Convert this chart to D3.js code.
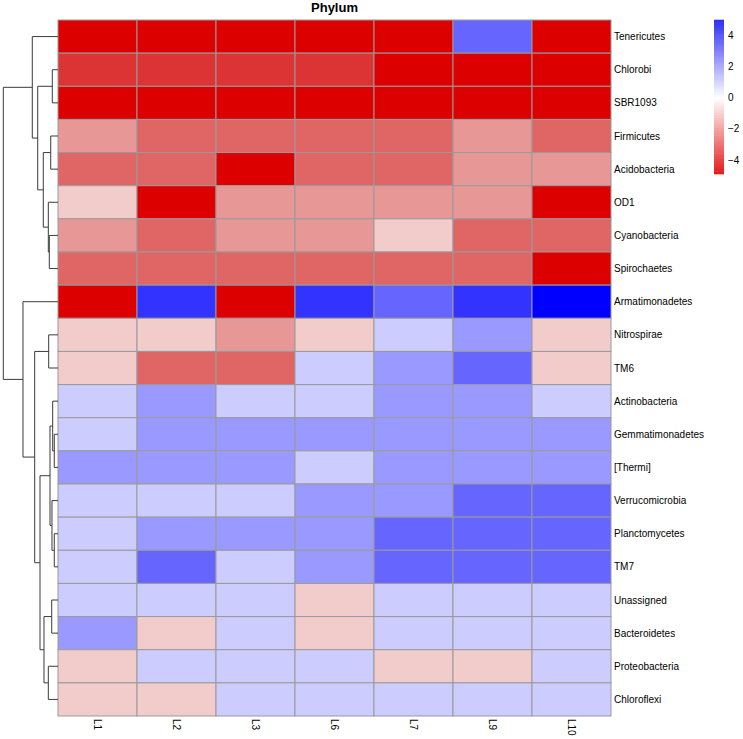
<!DOCTYPE html>
<html>
<head>
<meta charset="utf-8">
<script src="https://cdn.jsdelivr.net/npm/d3@7"></script>
<style>
  body { margin: 0; background: #fff; }
  text { font-family: "Liberation Sans", Arial, Helvetica, sans-serif; }
</style>
</head>
<body>
<script>

// samples (columns) and phyla (rows, in the order of the dendrogram)
var samples = ["L1", "L2", "L3", "L6", "L7", "L9", "L10"];

var phyla = ["Tenericutes", "Chlorobi", "SBR1093", "Firmicutes", "Acidobacteria",
  "OD1", "Cyanobacteria", "Spirochaetes", "Armatimonadetes", "Nitrospirae", "TM6",
  "Actinobacteria", "Gemmatimonadetes", "[Thermi]", "Verrucomicrobia",
  "Planctomycetes", "TM7", "Unassigned", "Bacteroidetes", "Proteobacteria", "Chloroflexi"];

// scaled values, one row per phylum, columns follow samples
var values = [
  [-4.5, -4.5, -4.5, -4.5, -4.5,  2.5, -4.5],
  [-3.5, -3.5, -3.5, -3.5, -4.5, -4.5, -4.5],
  [-4.5, -4.5, -4.5, -4.5, -4.5, -4.5, -4.5],
  [-1.5, -2.5, -2.5, -2.5, -2.5, -1.5, -2.5],
  [-2.5, -2.5, -4.5, -2.5, -2.5, -1.5, -1.5],
  [-0.5, -4.5, -1.5, -1.5, -1.5, -1.5, -4.5],
  [-1.5, -2.5, -1.5, -1.5, -0.5, -2.5, -2.5],
  [-2.5, -2.5, -2.5, -2.5, -2.5, -2.5, -4.5],
  [-4.5,  3.5, -4.5,  3.5,  2.5,  3.5,  4.5],
  [-0.5, -0.5, -1.5, -0.5,  0.5,  1.5, -0.5],
  [-0.5, -2.5, -2.5,  0.5,  1.5,  2.5, -0.5],
  [ 0.5,  1.5,  0.5,  0.5,  1.5,  1.5,  0.5],
  [ 0.5,  1.5,  1.5,  1.5,  1.5,  1.5,  1.5],
  [ 1.5,  1.5,  1.5,  0.5,  1.5,  1.5,  1.5],
  [ 0.5,  0.5,  0.5,  1.5,  1.5,  2.5,  2.5],
  [ 0.5,  1.5,  1.5,  1.5,  2.5,  2.5,  2.5],
  [ 0.5,  2.5,  0.5,  1.5,  2.5,  2.5,  2.5],
  [ 0.5,  0.5,  0.5, -0.5,  0.5,  0.5,  0.5],
  [ 1.5, -0.5,  0.5, -0.5,  0.5,  0.5,  0.5],
  [-0.5,  0.5,  0.5,  0.5, -0.5, -0.5,  0.5],
  [-0.5, -0.5,  0.5,  0.5,  0.5,  0.5,  0.5]
];

// row clustering, hclust style: [left, right, height], "mN" = earlier merge N
var merges = [
  ["Gemmatimonadetes", "[Thermi]", 0.68],   // m0
  ["Planctomycetes", "TM7", 0.68],          // m1
  ["Actinobacteria", "m0", 0.97],           // m2
  ["Chlorobi", "SBR1093", 1.04],            // m3
  ["Verrucomicrobia", "m1", 1.10],          // m4
  ["Unassigned", "Bacteroidetes", 1.15],    // m5
  ["Firmicutes", "Acidobacteria", 1.33],    // m6
  ["m2", "m4", 1.46],                       // m7
  ["Cyanobacteria", "Spirochaetes", 1.59],  // m8
  ["Nitrospirae", "TM6", 1.70],             // m9
  ["OD1", "m8", 1.77],                      // m10
  ["Proteobacteria", "Chloroflexi", 1.77],  // m11
  ["m5", "m11", 2.56],                      // m12
  ["m6", "m10", 2.69],                      // m13
  ["m7", "m12", 3.29],                      // m14
  ["m3", "m13", 3.71],                      // m15
  ["m9", "m14", 4.26],                      // m16
  ["Tenericutes", "m15", 4.70],             // m17
  ["Armatimonadetes", "m16", 6.40],         // m18
  ["m17", "m18", 10.0]                      // m19
];

var legendTicks = [-4, -2, 0, 2, 4];
var legendDomain = [-4.9, 5];

var colorBreaks = [-4, -3, -2, -1, 0, 1, 2, 3, 4];
var colorSteps = ["#dc0000", "#dc3434", "#e06565", "#e89797", "#f2cbcb",
                  "#ccccff", "#9999ff", "#6666ff", "#3333ff", "#0000ff"];


var W = 743, H = 739;
var grid = {left: 58, right: 611, top: 20, bottom: 716};

var svg = d3.select("body").append("svg")
    .attr("width", W)
    .attr("height", H);

var x = d3.scaleBand()
    .domain(samples)
    .range([grid.left, grid.right]);

var y = d3.scaleBand()
    .domain(phyla)
    .range([grid.top, grid.bottom]);

var color = d3.scaleThreshold()
    .domain(colorBreaks)
    .range(colorSteps);

// title
svg.append("text")
    .attr("x", (grid.left + grid.right) / 2)
    .attr("y", 12)
    .attr("text-anchor", "middle")
    .attr("font-size", 13)
    .attr("font-weight", "bold")
    .text("Phylum");

// cells
var cells = [];
phyla.forEach((p, i) => samples.forEach((s, j) => cells.push({row: p, col: s, v: values[i][j]})));

svg.append("g").selectAll("rect")
    .data(cells)
    .enter().append("rect")
    .attr("x", d => x(d.col))
    .attr("y", d => y(d.row))
    .attr("width", x.bandwidth())
    .attr("height", y.bandwidth())
    .attr("fill", d => color(d.v))
    .attr("stroke", "#9a9a9a")
    .attr("stroke-width", 1);

// row labels
svg.append("g").selectAll("text")
    .data(phyla)
    .enter().append("text")
    .attr("x", grid.right + 3)
    .attr("y", d => y(d) + y.bandwidth() / 2)
    .attr("dy", "0.35em")
    .attr("font-size", 10)
    .text(d => d);

// column labels, rotated
svg.append("g").selectAll("text")
    .data(samples)
    .enter().append("text")
    .attr("transform", d => `translate(${x(d) + x.bandwidth() / 2},${grid.bottom + 3}) rotate(90)`)
    .attr("dy", "0.35em")
    .attr("font-size", 10)
    .text(d => d);

// dendrogram
var hx = d3.scaleLinear()
    .domain([0, 10])
    .range([grid.left, 3.3]);

var nodes = {};
phyla.forEach(p => nodes[p] = {y: y(p) + y.bandwidth() / 2, h: 0});
merges.forEach((m, i) => {
  var a = nodes[m[0]], b = nodes[m[1]];
  nodes["m" + i] = {y: (a.y + b.y) / 2, h: m[2], a: a, b: b};
});

var segs = [];
merges.forEach((m, i) => {
  var n = nodes["m" + i];
  segs.push([hx(n.h), n.a.y, hx(n.h), n.b.y]);
  segs.push([hx(n.h), n.a.y, hx(n.a.h), n.a.y]);
  segs.push([hx(n.h), n.b.y, hx(n.b.h), n.b.y]);
});

svg.append("g").selectAll("line")
    .data(segs)
    .enter().append("line")
    .attr("x1", d => d[0])
    .attr("y1", d => d[1])
    .attr("x2", d => d[2])
    .attr("y2", d => d[3])
    .attr("stroke", "#3a3a3a")
    .attr("stroke-width", 1);

// colour legend
var ly = d3.scaleLinear()
    .domain(legendDomain)
    .range([174, 20]);

var grad = d3.scaleLinear()
    .domain([legendDomain[0], 0, legendDomain[1]])
    .range(["#e41a1a", "#ffffff", "#2f2ff5"]);

var steps = d3.range(60).map(i => legendDomain[0] + (legendDomain[1] - legendDomain[0]) * i / 60);
var stepH = (ly(legendDomain[0]) - ly(legendDomain[1])) / 60;

svg.append("g").selectAll("rect")
    .data(steps)
    .enter().append("rect")
    .attr("x", 714)
    .attr("y", d => ly(d) - stepH - 0.3)
    .attr("width", 10)
    .attr("height", stepH + 0.6)
    .attr("fill", d => grad(d + (legendDomain[1] - legendDomain[0]) / 120));

svg.append("g").selectAll("text")
    .data(legendTicks)
    .enter().append("text")
    .attr("x", 728)
    .attr("y", d => ly(d))
    .attr("dy", "0.35em")
    .attr("font-size", 10)
    .text(d => d < 0 ? "\u2212" + Math.abs(d) : d);

</script>
</body>
</html>
